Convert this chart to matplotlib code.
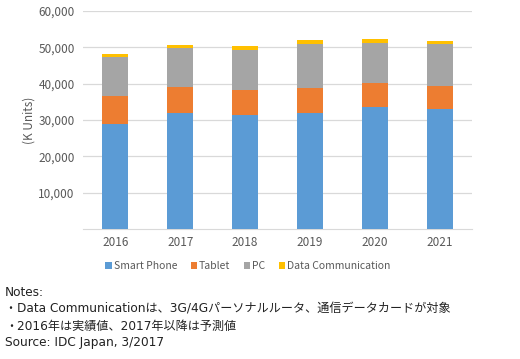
import numpy as np
import matplotlib.pyplot as plt

plt.rcParams['font.family'] = ['Noto Sans CJK JP', 'DejaVu Sans']

years = ['2016', '2017', '2018', '2019', '2020', '2021']
smart_phone = [28900, 32000, 31300, 32000, 33700, 33100]
tablet = [7700, 7200, 7100, 6900, 6600, 6400]
pc = [10700, 10700, 10900, 12100, 10900, 11500]
data_comm = [900, 800, 1100, 1100, 1100, 800]

series = [('Smart Phone', smart_phone, '#5B9BD5'),
          ('Tablet', tablet, '#ED7D31'),
          ('PC', pc, '#A5A5A5'),
          ('Data Communication', data_comm, '#FFC000')]

fig = plt.figure(figsize=(5.2, 3.59), dpi=100)
ax = fig.add_axes([0.1596, 0.362, 0.748, 0.607])

x = np.arange(len(years))
bottom = np.zeros(len(years))
for name, vals, col in series:
    ax.bar(x, vals, width=0.4, bottom=bottom, color=col, label=name, zorder=3)
    bottom += np.array(vals)

ax.set_xlim(-0.5, len(years) - 0.5)
ax.set_ylim(0, 60000)
ax.set_yticks(np.arange(10000, 60001, 10000))
ax.set_yticklabels(['{:,}'.format(v) for v in range(10000, 60001, 10000)])
ax.set_xticks(x)
ax.set_xticklabels(years)
ax.grid(axis='y', color='#D9D9D9', linewidth=0.9, zorder=0)
for s in ['top', 'right', 'left']:
    ax.spines[s].set_visible(False)
ax.spines['bottom'].set_color('#D9D9D9')
ax.tick_params(axis='both', length=0, colors='#595959', labelsize=8.5)
ax.tick_params(axis='y', pad=6)
ax.tick_params(axis='x', pad=5)
ax.set_ylabel('(K Units)', color='#595959', fontsize=8.5)
ax.yaxis.set_label_coords(-0.122, 0.5)

fig.legend(loc='center', bbox_to_anchor=(0.477, 1 - 266 / 359), ncol=4,
           frameon=False, fontsize=7.5, handlelength=0.6, handleheight=0.6,
           handletextpad=0.2, columnspacing=1.3, labelcolor='#595959')

notes = ['Notes:',
         '・Data Communicationは、3G/4Gパーソナルルータ、通信データカードが対象',
         '・2016年は実績値、2017年以降は予測値',
         'Source: IDC Japan, 3/2017']
for i, line in enumerate(notes):
    fig.text(5 / 520, 1 - (293 + i * 16.5) / 359, line, fontsize=8.7,
             family=['DejaVu Sans', 'Noto Sans CJK JP'],
             color='#222222', va='center', ha='left')

plt.savefig('out.png', dpi=100)
